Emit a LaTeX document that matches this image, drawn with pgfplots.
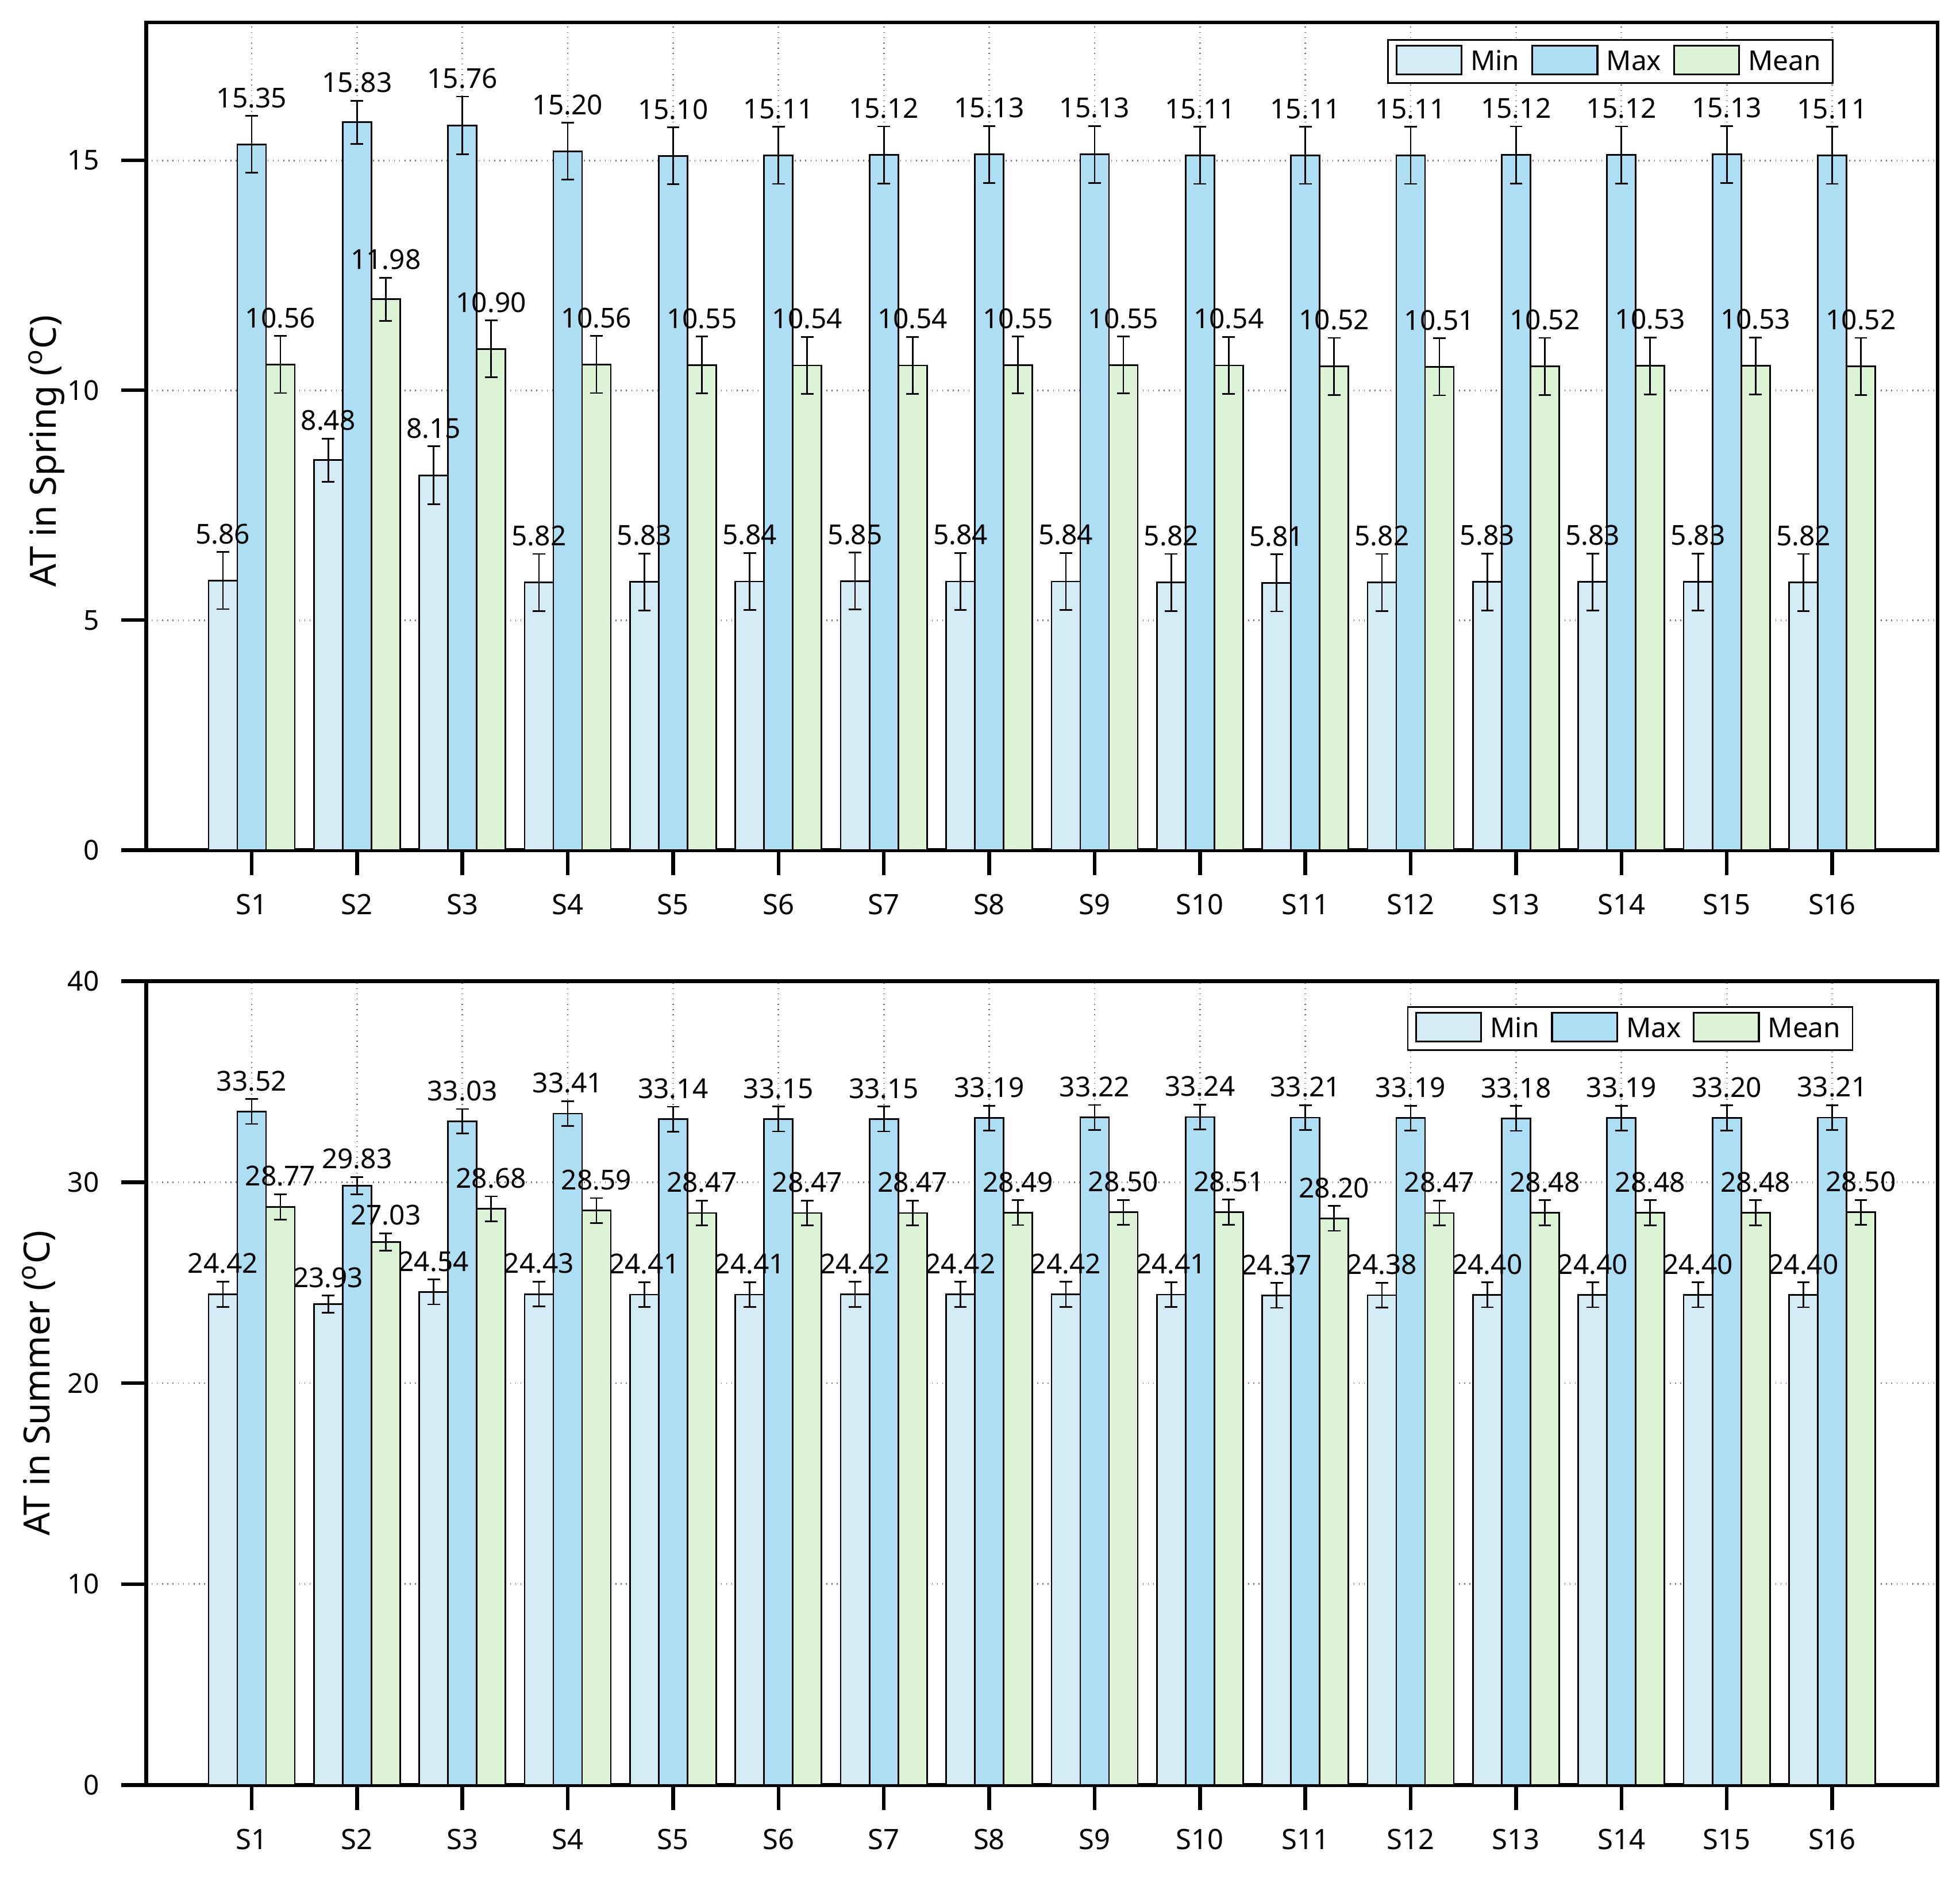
\documentclass[border=0pt]{standalone}
\usepackage{pgfplots}
\pgfplotsset{compat=1.18}
\usepackage{pgfplotstable}
\usepackage{fontspec}
\setmainfont{Noto Sans}
\definecolor{cMin}{HTML}{D3EBF5}
\definecolor{cMax}{HTML}{ADDEF3}
\definecolor{cMean}{HTML}{DCF3D5}

\pgfplotstableread{
x  min  emin  max   emax  mean  emean
1  5.86 0.62  15.35 0.62  10.56 0.62
2  8.48 0.47  15.83 0.47  11.98 0.47
3  8.15 0.63  15.76 0.63  10.90 0.62
4  5.82 0.62  15.20 0.62  10.56 0.62
5  5.83 0.62  15.10 0.62  10.55 0.62
6  5.84 0.62  15.11 0.62  10.54 0.62
7  5.85 0.62  15.12 0.62  10.54 0.62
8  5.84 0.62  15.13 0.62  10.55 0.62
9  5.84 0.62  15.13 0.62  10.55 0.62
10 5.82 0.62  15.11 0.62  10.54 0.62
11 5.81 0.62  15.11 0.62  10.52 0.62
12 5.82 0.62  15.11 0.62  10.51 0.62
13 5.83 0.62  15.12 0.62  10.52 0.62
14 5.83 0.62  15.12 0.62  10.53 0.62
15 5.83 0.62  15.13 0.62  10.53 0.62
16 5.82 0.62  15.11 0.62  10.52 0.62
}\spring

\pgfplotstableread{
x  min   emin  max   emax  mean  emean
1  24.42 0.63  33.52 0.62  28.77 0.63
2  23.93 0.43  29.83 0.43  27.03 0.43
3  24.54 0.62  33.03 0.61  28.68 0.62
4  24.43 0.62  33.41 0.62  28.59 0.62
5  24.41 0.62  33.14 0.62  28.47 0.62
6  24.41 0.62  33.15 0.62  28.47 0.62
7  24.42 0.62  33.15 0.62  28.47 0.62
8  24.42 0.62  33.19 0.62  28.49 0.62
9  24.42 0.62  33.22 0.62  28.50 0.62
10 24.41 0.62  33.24 0.62  28.51 0.62
11 24.37 0.62  33.21 0.62  28.20 0.62
12 24.38 0.62  33.19 0.62  28.47 0.62
13 24.40 0.62  33.18 0.62  28.48 0.62
14 24.40 0.62  33.19 0.62  28.48 0.62
15 24.40 0.62  33.20 0.62  28.48 0.62
16 24.40 0.62  33.21 0.62  28.50 0.62
}\summer

\pgfplotsset{
  mybar/.style={ybar, bar width=0.2727, bar shift=0pt, draw=black, line width=0.25mm, fill=#1,
    error bars/y dir=both, error bars/y explicit,
    error bars/error bar style={line width=0.25mm, black},
    error bars/error mark options={rotate=90, line width=0.25mm, black, mark size=1mm},
    legend image code/.code={\draw[##1, line width=0.3mm] (0mm,-2.0mm) rectangle (10.4mm,2.6mm);}},
  lab/.style={draw=none, forget plot, nodes near coords, point meta=explicit symbolic,
    nodes near coords style={anchor=south, inner sep=0pt, yshift=1.2mm, font=\fontsize{12.5}{14}\selectfont, text=black}},
  common/.style={
    width=286.6mm, scale only axis,
    xmin=0, xmax=17, ymin=0,
    xtick={1,...,16}, xticklabels={S1,S2,S3,S4,S5,S6,S7,S8,S9,S10,S11,S12,S13,S14,S15,S16},
    tick pos=left, tick align=outside, major tick length=4mm,
    axis line style={line width=0.6mm},
    tick style={line width=0.6mm, black},
    grid=major, major grid style={dotted, black!55, line width=0.25mm},
    yticklabel style={font=\fontsize{12.5}{14}\selectfont, xshift=-2.3mm},
    xticklabel style={font=\fontsize{12.8}{14}\selectfont, yshift=-1.8mm},
    /pgf/number format/assume math mode=true,
    legend cell align=left,
    legend style={anchor=north east, legend columns=3, draw=black, line width=0.25mm,
      font=\fontsize{12.5}{14}\selectfont, inner xsep=1.2mm, inner ysep=0.8mm,
      /tikz/every odd column/.append style={column sep=0.6mm},
      /tikz/every even column/.append style={column sep=1.2mm}},
  },
}

\begin{document}
\begin{tikzpicture}
\begin{axis}[common, at={(0,0)}, anchor=south west,
  height=132.4mm, ymax=18, ytick={0,5,10,15},
  ylabel={AT in Spring (\textsuperscript{o}C)},
  every axis y label/.style={at={(axis description cs:-0.0558,0.482)}, rotate=90, anchor=center, font=\fontsize{16.4}{18}\selectfont},
  legend style={at={(0.942,0.980)}},
]
\addplot[mybar=cMin]  table[x expr=\thisrow{x}-0.2727, y=min, y error=emin] {\spring};
\addlegendentry{Min}
\addplot[mybar=cMax]  table[x=x, y=max, y error=emax] {\spring};
\addlegendentry{Max}
\addplot[mybar=cMean] table[x expr=\thisrow{x}+0.2727, y=mean, y error=emean] {\spring};
\addlegendentry{Mean}
\addplot[lab] table[x expr=\thisrow{x}-0.2727, y expr=\thisrow{min}+\thisrow{emin}, meta=min] {\spring};
\addplot[lab] table[x=x, y expr=\thisrow{max}+\thisrow{emax}, meta=max] {\spring};
\addplot[lab] table[x expr=\thisrow{x}+0.2727, y expr=\thisrow{mean}+\thisrow{emean}, meta=mean] {\spring};
\end{axis}

\begin{axis}[common, at={(0,-149.6mm)}, anchor=south west,
  height=128.6mm, ymax=40, ytick={0,10,20,30,40},
  ylabel={AT in Summer (\textsuperscript{o}C)},
  every axis y label/.style={at={(axis description cs:-0.060,0.5)}, rotate=90, anchor=center, font=\fontsize{16.4}{18}\selectfont},
  legend style={at={(0.953,0.969)}},
]
\addplot[mybar=cMin]  table[x expr=\thisrow{x}-0.2727, y=min, y error=emin] {\summer};
\addlegendentry{Min}
\addplot[mybar=cMax]  table[x=x, y=max, y error=emax] {\summer};
\addlegendentry{Max}
\addplot[mybar=cMean] table[x expr=\thisrow{x}+0.2727, y=mean, y error=emean] {\summer};
\addlegendentry{Mean}
\addplot[lab] table[x expr=\thisrow{x}-0.2727, y expr=\thisrow{min}+\thisrow{emin}, meta=min] {\summer};
\addplot[lab] table[x=x, y expr=\thisrow{max}+\thisrow{emax}, meta=max] {\summer};
\addplot[lab] table[x expr=\thisrow{x}+0.2727, y expr=\thisrow{mean}+\thisrow{emean}, meta=mean] {\summer};
\end{axis}
\pgfresetboundingbox
\path[use as bounding box] (-23.4mm,-164.6mm) rectangle (290.2mm,136mm);
\end{tikzpicture}
\end{document}
